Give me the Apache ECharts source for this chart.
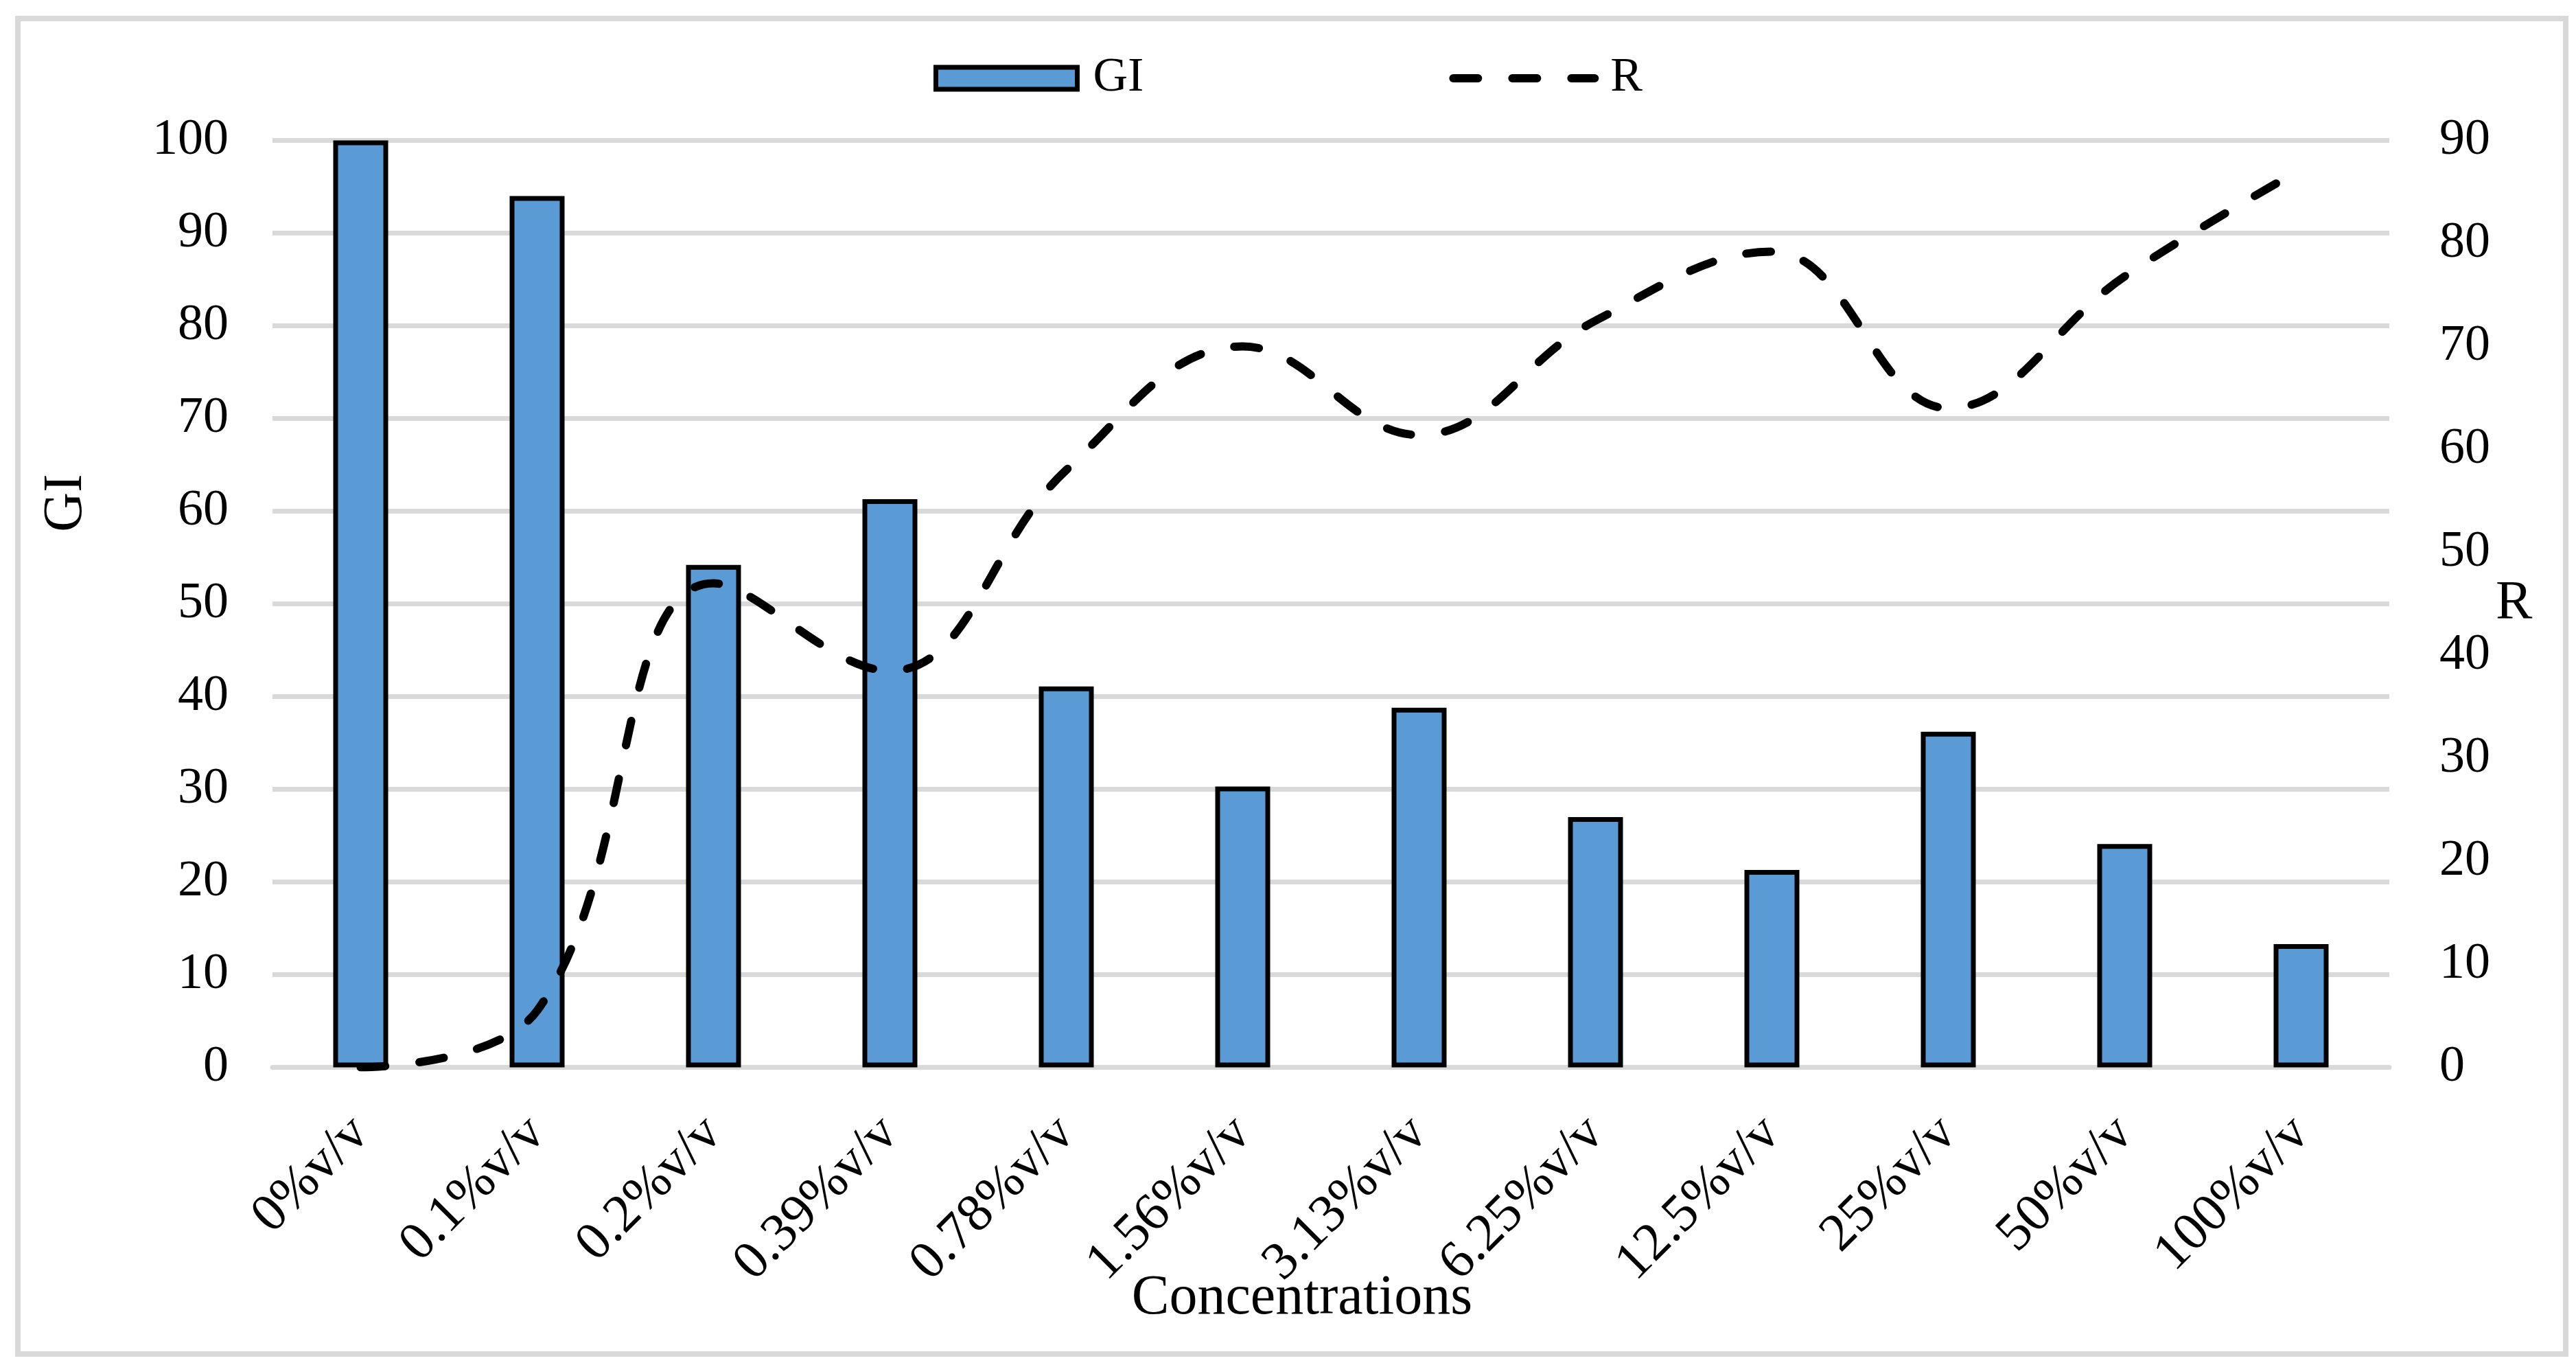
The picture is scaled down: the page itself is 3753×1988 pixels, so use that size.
<!DOCTYPE html>
<html><head><meta charset="utf-8">
<script src="https://cdn.jsdelivr.net/npm/echarts@6/dist/echarts.min.js"></script>
<style>html,body{margin:0;padding:0;background:#fff}#c{width:3753px;height:1988px}</style>
</head><body><div id="c"></div>
<script>
const categories = ['0%v/v','0.1%v/v','0.2%v/v','0.39%v/v','0.78%v/v','1.56%v/v','3.13%v/v','6.25%v/v','12.5%v/v','25%v/v','50%v/v','100%v/v'];
const giValues = [100, 94, 54.2, 61.3, 41.1, 30.3, 38.8, 27, 21.3, 36.2, 24.1, 13.3];
const rValues = [0, 5.5, 47, 38.5, 58, 70, 61.4, 72.5, 79.2, 64, 76.8, 87.2];
const giTicks = [0, 100, 10];
const rTicks = [0, 90, 10];

const FONT = "'Liberation Serif','Times New Roman',serif";
const GRID_COLOR = '#d9d9d9';
const DASH = [36, 50];
const chart = echarts.init(document.getElementById('c'), null, {renderer: 'canvas'});
chart.setOption({
  backgroundColor: '#ffffff',
  textStyle: {fontFamily: FONT, color: '#000'},
  animation: false,
  graphic: [{
    type: 'rect', left: 22, top: 23, silent: true,
    shape: {width: 3712, height: 1945},
    style: {fill: 'none', stroke: GRID_COLOR, lineWidth: 8}
  }],
  legend: {
    left: 'center', top: 74,
    itemWidth: 206, itemHeight: 32, itemGap: 445,
    textStyle: {fontFamily: FONT, fontSize: 70, color: '#000', padding: [0, 0, 0, 18]},
    itemStyle: {borderWidth: 7, borderColor: '#000'},
    data: [
      {name: 'GI', icon: 'rect'},
      {name: 'R', itemStyle: {opacity: 0},
       lineStyle: {width: 12, type: DASH, cap: 'round', color: '#000'}}
    ]
  },
  grid: {left: 397, right: 272, top: 204.5, bottom: 433.5, containLabel: false},
  xAxis: {
    type: 'category', data: categories, boundaryGap: true,
    axisLine: {show: true, lineStyle: {color: GRID_COLOR, width: 7}},
    axisTick: {show: false},
    axisLabel: {interval: 0, rotate: 45, margin: 85, fontSize: 78, color: '#000', fontFamily: FONT},
    name: 'Concentrations', nameLocation: 'middle', nameGap: 296, nameMoveOverlap: false,
    nameTextStyle: {fontSize: 82, color: '#000', fontFamily: FONT, padding: [0, 84, 0, 0]}
  },
  yAxis: [{
    type: 'value', min: giTicks[0], max: giTicks[1], interval: giTicks[2],
    axisLine: {show: false}, axisTick: {show: false},
    splitLine: {show: true, lineStyle: {color: GRID_COLOR, width: 7}},
    axisLabel: {fontSize: 74, margin: 64, color: '#000', fontFamily: FONT},
    name: 'GI', nameLocation: 'middle', nameRotate: 90, nameGap: 260, nameMoveOverlap: false,
    nameTextStyle: {fontSize: 80, color: '#000', fontFamily: FONT, padding: [0, 0, 0, 294]}
  }, {
    type: 'value', min: rTicks[0], max: rTicks[1], interval: rTicks[2], position: 'right',
    axisLine: {show: false}, axisTick: {show: false},
    splitLine: {show: false},
    axisLabel: {fontSize: 74, margin: 73, color: '#000', fontFamily: FONT},
    name: 'R', nameLocation: 'middle', nameRotate: 0, nameGap: 155, nameMoveOverlap: false,
    nameTextStyle: {fontSize: 80, color: '#000', fontFamily: FONT}
  }],
  series: [{
    name: 'GI', type: 'bar', yAxisIndex: 0, data: giValues, barWidth: 80,
    itemStyle: {color: '#5b9bd5', borderColor: '#000', borderWidth: 7},
    z: 2
  }, {
    name: 'R', type: 'line', yAxisIndex: 1, data: rValues, smooth: 0.4,
    symbol: 'none', showSymbol: false,
    lineStyle: {color: '#000', width: 12, type: DASH, cap: 'round'},
    itemStyle: {color: '#000'},
    z: 3
  }]
});
</script></body></html>
